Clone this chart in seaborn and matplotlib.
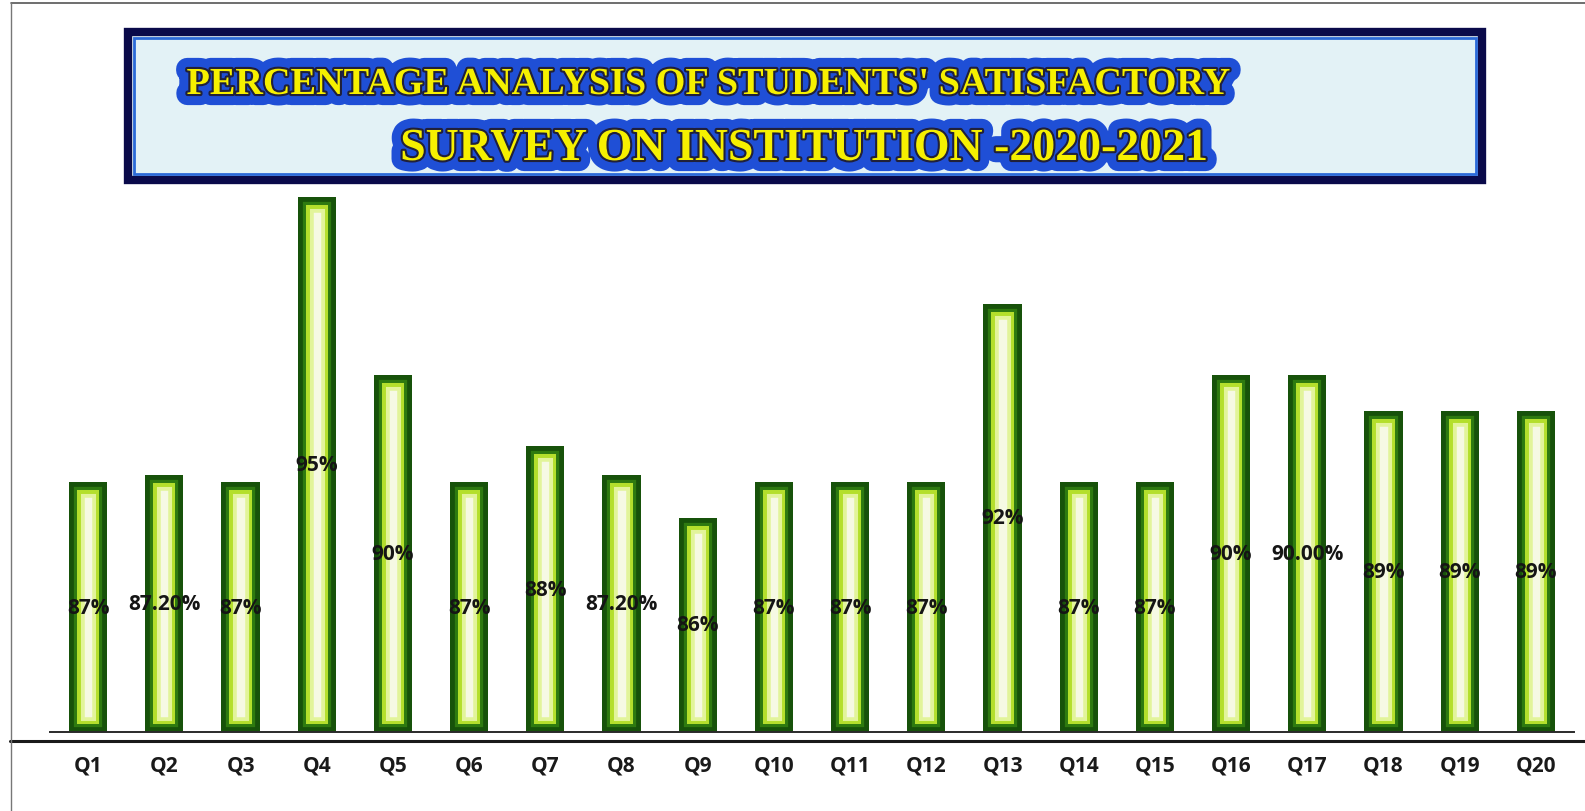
import matplotlib
matplotlib.use("Agg")
import matplotlib.pyplot as plt
import matplotlib.patheffects as pe
from matplotlib.patches import Rectangle
from matplotlib.lines import Line2D
import pandas as pd
import seaborn as sns

# ---------------- data ----------------
questions = ["Q1", "Q2", "Q3", "Q4", "Q5", "Q6", "Q7", "Q8", "Q9", "Q10",
             "Q11", "Q12", "Q13", "Q14", "Q15", "Q16", "Q17", "Q18", "Q19", "Q20"]
values = [87, 87.2, 87, 95, 90, 87, 88, 87.2, 86, 87,
          87, 87, 92, 87, 87, 90, 90, 89, 89, 89]
value_labels = ["87%", "87.20%", "87%", "95%", "90%", "87%", "88%", "87.20%", "86%", "87%",
                "87%", "87%", "92%", "87%", "87%", "90%", "90.00%", "89%", "89%", "89%"]
title_line1 = "PERCENTAGE ANALYSIS OF STUDENTS' SATISFACTORY"
title_line2 = "SURVEY ON INSTITUTION -2020-2021"
axis_floor = 80
axis_ceiling = 100

# ---------------- figure ----------------
sns.set_theme(style="white")
plt.rcParams["font.family"] = ["Open Sans", "DejaVu Sans"]

W, H = 1585, 812
fig = plt.figure(figsize=(W / 100, H / 100), dpi=100)
fig.patch.set_facecolor("white")

ax = fig.add_axes([50 / W, 1 - 733 / H, 1524 / W, 714 / H])
ax.set_facecolor("none")

df = pd.DataFrame({"question": questions, "value": values})

# layered bars: pale face, then inner bands (outer glow -> dark edge)
layers = [
    ("#f6f9e4", "none", 0, False),
    ("none", "#e2f49a", 22, True),
    ("none", "#b4df2c", 16.5, True),
    ("none", "#2e7a10", 11.5, True),
    ("none", "#17520a", 7, True),
]
bar_width = 0.5
for fc, ec, lw, clip in layers:
    sns.barplot(data=df, x="question", y="value", ax=ax, width=bar_width,
                color="#f6f9e4", saturation=1, errorbar=None)
    cont = ax.containers[-1]
    for p in cont:
        h = p.get_height()
        p.set_y(axis_floor)
        p.set_height(h - axis_floor)
        p.set_facecolor(fc)
        p.set_edgecolor(ec)
        p.set_linewidth(lw)
        if clip:
            p.set_clip_path(p)

ax.bar_label(ax.containers[-1], labels=value_labels, label_type="center",
             fontsize=15, fontweight="bold", color="#151515")

ax.set_xlim(-0.5, len(questions) - 0.5)
ax.set_ylim(axis_floor, axis_ceiling)
ax.set_xlabel("")
ax.set_ylabel("")
ax.set_yticks([])
for s in ["top", "right", "left"]:
    ax.spines[s].set_visible(False)
ax.spines["bottom"].set_color("#2a2a2a")
ax.spines["bottom"].set_linewidth(1.4)
ax.tick_params(axis="x", length=0, pad=16)
for t in ax.get_xticklabels():
    t.set_fontsize(15)
    t.set_fontweight("bold")
    t.set_color("#1a1a1a")

# page frame lines
fig.add_artist(Line2D([10 / W, 1], [1 - 742 / H, 1 - 742 / H], color="#1a1a1a", lw=2.2))
fig.add_artist(Line2D([11 / W, 1], [1 - 4 / H, 1 - 4 / H], color="#555555", lw=1.2))
fig.add_artist(Line2D([11 / W, 11 / W], [0, 1 - 4 / H], color="#777777", lw=1.0))

# title box
x0, x1 = 128 / W, 1482 / W
y0, y1 = 1 - 181 / H, 1 - 33 / H
fig.add_artist(Rectangle((x0, y0), x1 - x0, y1 - y0, transform=fig.transFigure,
                         facecolor="#e3f2f6", edgecolor="#0a0a4a", lw=6))
pad_x, pad_y = 6 / W, 6 / H
fig.add_artist(Rectangle((x0 + pad_x, y0 + pad_y), x1 - x0 - 2 * pad_x, y1 - y0 - 2 * pad_y,
                         transform=fig.transFigure, facecolor="none",
                         edgecolor="#2b6ad8", lw=2))

title_effects = [pe.Stroke(linewidth=16, foreground="#1f4fd6"),
                 pe.Stroke(linewidth=3, foreground="#20203a"),
                 pe.Normal()]
fig.text(709 / W, 1 - 95 / H, title_line1, ha="center", va="baseline",
         fontsize=27.5, fontweight="bold", color="#f6f000",
         family=["Liberation Serif", "DejaVu Serif"], path_effects=title_effects)
fig.text(804 / W, 1 - 161 / H, title_line2, ha="center", va="baseline",
         fontsize=33, fontweight="bold", color="#f6f000",
         family=["Liberation Serif", "DejaVu Serif"], path_effects=title_effects)

fig.savefig("out.png", dpi=100, facecolor="white")
